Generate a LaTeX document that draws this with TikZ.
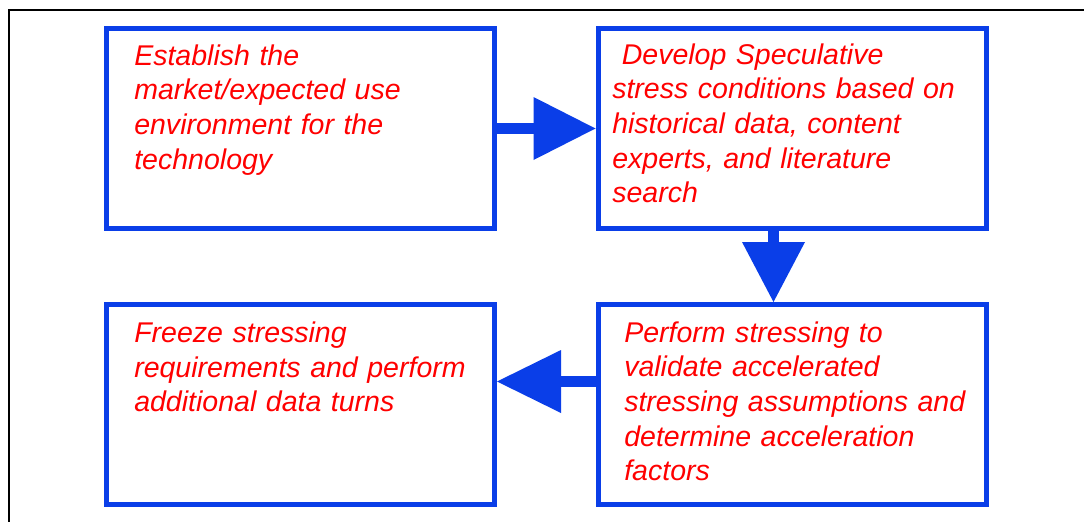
\documentclass[tikz,border=0pt]{standalone}
\usepackage{fontspec}
\setmainfont{Liberation Sans}
\usetikzlibrary{calc}
\definecolor{flowblue}{RGB}{10,62,232}
\definecolor{flowred}{RGB}{255,0,0}
\tikzset{
  stagebox/.style={draw=flowblue, line width=3.75pt, rectangle, inner sep=0pt,
    minimum width=291pt, minimum height=150pt},
  stagetext/.style={anchor=base west, inner sep=0pt, text width=285pt, align=left,
    text=flowred, font=\fontsize{21.4pt}{26pt}\selectfont\itshape},
  shaft/.style={draw=flowblue, line width=8.5pt},
  headfill/.style={fill=flowblue},
  frameline/.style={draw=black, line width=1.6pt}
}
\begin{document}
\begin{tikzpicture}[x=0.75pt, y=-0.75pt]
\useasboundingbox (0,0) rectangle (1084,521);
\clip (0,0) rectangle (1084,521);
\fill[white] (0,0) rectangle (1084,521);
% outer frame (partly cut off)
\draw[frameline] (1100,10) -- (9,10) -- (9,540);
% boxes
\node[stagebox] (b1) at (300.5,128.5) {};
\node[stagebox] (b2) at (792,128.5) {};
\node[stagebox] (b3) at (300.5,404.5) {};
\node[stagebox] (b4) at (792,404.5) {};
% texts
\node[stagetext] (t1) at (134,65) {Establish the\\market/expected use\\environment for the\\technology};
\node[stagetext] (t2) at (612,64) {~Develop Speculative\\stress conditions based on\\historical data, content\\experts, and literature\\search};
\node[stagetext] (t3) at (134,342.5) {Freeze stressing\\requirements and perform\\additional data turns};
\node[stagetext] (t4) at (624,342) {Perform stressing to\\validate accelerated\\stressing assumptions and\\determine acceleration\\factors};
% arrow b1 -> b2
\coordinate (h1) at ($(b2.west)+(-61,0)$);
\draw[shaft] (b1.east) -- (h1);
\fill[headfill] (b2.west) -- ++(-62,-31.5) -- ++(0,63) -- cycle;
% arrow b2 -> b4
\coordinate (h2) at ($(773.5,0 |- b4.north)+(0,-59)$);
\draw[shaft] (773.5,0 |- b2.south) -- (h2);
\fill[headfill] (773.5,0 |- b4.north) -- ++(-31.5,-60) -- ++(63,0) -- cycle;
% arrow b4 -> b3
\coordinate (h3) at ($(b3.east |- 0,381.5)+(63,0)$);
\draw[shaft] (b4.west |- 0,381.5) -- (h3);
\fill[headfill] (b3.east |- 0,381.5) -- ++(64,-31.5) -- ++(0,63) -- cycle;
\end{tikzpicture}
\end{document}
